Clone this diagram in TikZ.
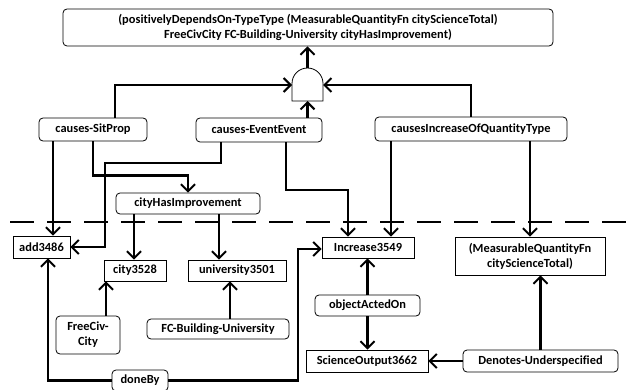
\documentclass[tikz,border=0pt]{standalone}
\usepackage{fontspec}
\setmainfont[Ligatures={NoCommon,NoRare,NoContextual}]{Carlito}
\usetikzlibrary{arrows.meta}
\begin{document}
\begin{tikzpicture}[x=1pt,y=-1pt,
  lbl/.style={font=\bfseries\fontsize{12.4}{15}\selectfont, align=center, inner sep=0pt, line width=0.8pt, draw},
  rbox/.style={lbl, rounded corners=4pt},
  sbox/.style={lbl},
  conn/.style={line width=2.5pt, -{Straight Barb[length=7pt,width=14pt,line width=2pt]}},
  plain/.style={line width=2.5pt}]
\useasboundingbox (0,0) rectangle (628,390);
% dashed separator
\draw[line width=2.8pt, dash pattern=on 24pt off 13pt, dash phase=-10pt] (0,222) -- (628,222);
% nodes
\node[rbox, minimum width=490pt, minimum height=37pt] (top) at (308,27.5) {(positivelyDependsOn-TypeType (MeasurableQuantityFn cityScienceTotal)\\FreeCivCity FC-Building-University cityHasImprovement)};
\node[rbox, minimum width=108pt, minimum height=23pt] (sitprop) at (93,129.5) {causes-SitProp};
\node[rbox, minimum width=126pt, minimum height=24pt] (eventevent) at (259,130) {causes-EventEvent};
\node[rbox, minimum width=192pt, minimum height=24pt] (incqt) at (471,129) {causesIncreaseOfQuantityType};
\node[rbox, minimum width=144pt, minimum height=21pt] (cityhas) at (188,203.5) {cityHasImprovement};
\node[sbox, minimum width=57pt, minimum height=22pt] (add) at (41.5,247) {add3486};
\node[sbox, minimum width=92pt, minimum height=21pt] (increase) at (368,247.5) {Increase3549};
\node[sbox, minimum width=150pt, minimum height=38pt] (mqf) at (530,256) {(MeasurableQuantityFn\\cityScienceTotal)};
\node[sbox, minimum width=62pt, minimum height=21pt] (city) at (135,270.5) {city3528};
\node[sbox, minimum width=98pt, minimum height=21pt] (univ) at (237,270.5) {university3501};
\node[rbox, minimum width=64pt, minimum height=38pt] (freeciv) at (88,335) {FreeCiv-\\City};
\node[rbox, minimum width=142pt, minimum height=20pt] (fcbu) at (218,329) {FC-Building-University};
\node[rbox, minimum width=105pt, minimum height=21pt] (objacted) at (367.5,305.5) {objectActedOn};
\node[sbox, minimum width=122pt, minimum height=22pt] (sciout) at (367,361) {ScienceOutput3662};
\node[rbox, minimum width=155pt, minimum height=22pt] (denotes) at (540.5,361) {Denotes-Underspecified};
\node[rbox, minimum width=56pt, minimum height=21pt] (doneby) at (140,380.5) {doneBy};
% AND gate
\draw[fill=white, line width=0.8pt] (292,101) -- (292,83.5) arc[start angle=180, end angle=0, radius=15.5pt] -- (323,101) -- cycle;
\coordinate (gateT) at (307.5,68);
\coordinate (gateB) at (307.5,101);
\coordinate (gateL) at (292,85);
\coordinate (gateR) at (323,85);
\coordinate (c7) at (105,163);
\coordinate (c8) at (348,190);
\coordinate (c20) at (298,249);
% connectors
\draw[conn] (gateT) -- (gateT |- top.south);
\draw[conn] ([xshift=22pt]sitprop.north) |- (gateL);
\draw[conn] (incqt.north) |- (gateR);
\draw[conn] (gateB |- eventevent.north) -- (gateB);
\draw[conn] ([xshift=-40pt]sitprop.south) coordinate (t) -- (t |- add.north);
\draw[conn] (sitprop.south) -- ++(0,34) -| (cityhas.north);
\draw[conn] ([xshift=-38pt]eventevent.south) |- (c7) |- (add.east);
\draw[conn] ([xshift=27pt]eventevent.south) |- (c8) -- (c8 |- increase.north);
\draw[conn] ([xshift=-80pt]incqt.south) coordinate (t) -- (t |- increase.north);
\draw[conn] (incqt.south -| mqf.north) -- (mqf.north);
\draw[conn] ([xshift=-54pt]cityhas.south) coordinate (t) -- (t |- city.north);
\draw[conn] ([xshift=31pt]cityhas.south) coordinate (t) -- (t |- univ.north);
\draw[conn] ([xshift=18pt]freeciv.north) coordinate (t) -- (t |- city.south);
\draw[conn] ([xshift=12pt]fcbu.north) coordinate (t) -- (t |- univ.south);
\draw[conn] (objacted.north) -- (objacted.north |- increase.south);
\draw[conn] (objacted.south) -- (objacted.south |- sciout.north);
\draw[conn] (denotes.west) -- (sciout.east);
\draw[conn] (denotes.north) -- (denotes.north |- mqf.south);
\draw[conn] (doneby.west) -| ([xshift=6.5pt]add.south);
\draw[conn] (doneby.east) -| (c20) -- (increase.west |- c20);
\end{tikzpicture}
\end{document}
